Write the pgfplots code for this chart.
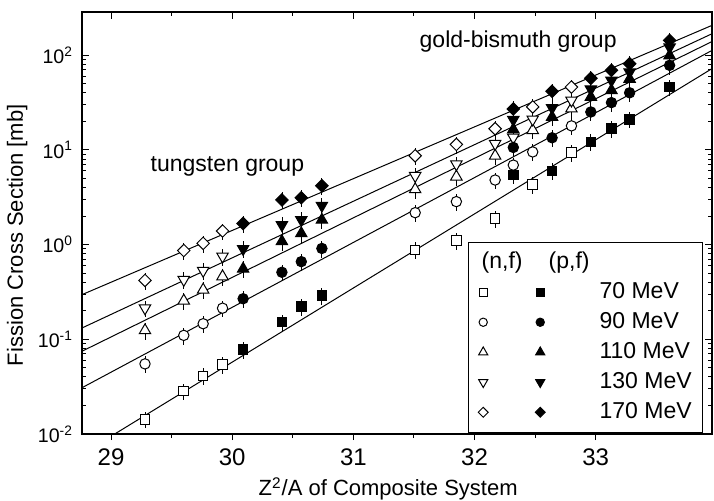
\documentclass[border=0pt]{standalone}
\usepackage{fontspec}
\setmainfont{Liberation Sans}
\usepackage{pgfplots}
\usepackage{pgfplotstable}
\pgfplotsset{compat=1.18}

% (n,f) data, open symbols
\pgfplotstableread{
x y e
29.28 0.0143 0.2
29.60 0.0284 0.2
29.76 0.041 0.2
29.92 0.054 0.2
31.51 0.88 0.2
31.85 1.10 0.2
32.17 1.89 0.2
32.48 4.3 0.2
32.80 9.4 0.2
}\nSeventy
\pgfplotstableread{
x y e
29.28 0.055 0.2
29.60 0.110 0.2
29.76 0.146 0.2
29.92 0.213 0.2
31.51 2.17 0.2
31.85 2.84 0.2
32.17 4.8 0.2
32.32 6.9 0.2
32.48 9.5 0.2
32.80 17.9 0.2
}\nNinety
\pgfplotstableread{
x y e
29.28 0.124 0.2
29.60 0.255 0.2
29.76 0.333 0.2
29.92 0.46 0.2
31.51 3.82 0.2
31.85 5.2 0.2
32.17 8.64 0.2
32.48 16.1 0.2
32.80 27.2 0.2
}\nHundredTen
\pgfplotstableread{
x y e
29.28 0.213 0.2
29.60 0.425 0.2
29.76 0.53 0.2
29.92 0.75 0.2
31.51 5.32 0.2
31.85 7.06 0.2
32.17 11.6 0.2
32.32 13.5 0.2
32.48 21 0.2
32.80 33.3 0.2
}\nHundredThirty
\pgfplotstableread{
x y e
29.28 0.418 0.2
29.60 0.865 0.2
29.76 1.03 0.2
29.92 1.39 0.2
31.51 8.65 0.2
31.85 11.4 0.2
32.17 16.7 0.2
32.48 28.4 0.2
32.80 46 0.2
}\nHundredSeventy

% (p,f) data, filled symbols
\pgfplotstableread{
x y e
30.09 0.078 0.2
30.41 0.152 0.2
30.57 0.222 0.2
30.74 0.288 0.2
32.32 5.4 0.2
32.64 6.0 0.2
32.96 12.1 0.2
33.13 16.7 0.2
33.28 21 0.2
33.61 46 0.2
}\pSeventy
\pgfplotstableread{
x y e
30.09 0.268 0.2
30.41 0.51 0.2
30.57 0.66 0.2
30.74 0.91 0.2
32.32 10.6 0.2
32.64 13.4 0.2
32.96 25.1 0.2
33.13 31.5 0.2
33.28 40 0.2
33.61 78 0.2
}\pNinety
\pgfplotstableread{
x y e
30.09 0.554 0.2
30.41 1.08 0.2
30.57 1.31 0.2
30.74 1.82 0.2
32.32 16.4 0.2
32.64 22.2 0.2
32.96 36.1 0.2
33.13 42.5 0.2
33.28 56 0.2
33.61 99 0.2
}\pHundredTen
\pgfplotstableread{
x y e
30.09 0.90 0.2
30.41 1.61 0.2
30.57 1.82 0.2
30.74 2.58 0.2
32.32 20.8 0.2
32.64 27.7 0.2
32.96 43.6 0.2
33.13 54 0.2
33.28 66 0.2
33.61 121 0.2
}\pHundredThirty
\pgfplotstableread{
x y e
30.09 1.67 0.2
30.41 2.96 0.2
30.57 3.12 0.2
30.74 4.18 0.2
32.32 27 0.2
32.64 41.5 0.2
32.96 57 0.2
33.13 69 0.2
33.28 81 0.2
33.61 143 0.2
}\pHundredSeventy

\pgfplotsset{
  pts/.style={only marks, black, line width=0.5pt,
    /pgfplots/error bars/y dir=both,
    /pgfplots/error bars/y explicit relative,
    /pgfplots/error bars/error mark=none,
    /pgfplots/error bars/error bar style={line width=0.4pt, black}},
  openpt/.style={forget plot, every mark/.append style={fill=white}},
  fullpt/.style={every mark/.append style={fill=black},
    legend image code/.code={
      \draw[##1, every mark/.append style={fill=white, scale=0.8}] plot coordinates {(0pt,0pt)};
      \draw[##1, every mark/.append style={scale=0.8}] plot coordinates {(28.5pt,0pt)};}},
  mA/.style={mark=square*, mark size=2.4pt},
  mB/.style={mark=*, mark size=2.6pt},
  mC/.style={mark=triangle*, mark size=3.3pt},
  mD/.style={mark=triangle*, mark size=3.3pt, every mark/.append style={rotate=180}},
  mE/.style={mark=square*, mark size=2.2pt, every mark/.append style={rotate=45}},
  fitline/.style={black, line width=0.5pt, no marks, forget plot},
}

\begin{document}
\begin{tikzpicture}[font=\fontsize{11}{13}\selectfont]
\begin{axis}[name=main,
  width=315pt, height=211pt, scale only axis,
  xmin=28.76, xmax=33.96, ymode=log, ymin=0.01, ymax=285,
  major tick length=3.5pt, minor tick length=2pt,
  every tick/.style={black, line width=0.5pt},
  axis line style={line width=0.7pt},
  tick align=inside,
  xtick={29,30,31,32,33}, minor x tick num=1,
  xtick pos=right, xticklabel pos=left,
  xticklabels={29,30,31,32,33},
  xticklabel style={yshift=-4pt, font=\fontsize{12}{14}\selectfont},
  ytick={0.01,0.1,1,10,100},
  yticklabels={10\textsuperscript{-2},10\textsuperscript{-1},10\textsuperscript{0},10\textsuperscript{1},10\textsuperscript{2}},
  yticklabel style={xshift=-1pt, font=\fontsize{9.8}{12}\selectfont},
  xlabel={Z\textsuperscript{2}/A of Composite System},
  ylabel={Fission Cross Section [mb]},
  every axis x label/.style={at={(axis description cs:0.486,-0.13)}, anchor=center},
  every axis y label/.style={at={(axis description cs:-0.103,0.471)}, anchor=center, rotate=90},
  legend cell align=left,
  legend style={at={(axis description cs:0.986,0.003)}, anchor=south east,
    draw=black, line width=0.5pt, fill=white,
    font=\fontsize{11.5}{13}\selectfont,
    inner xsep=5pt, inner ysep=4pt, row sep=3pt,
    nodes={inner sep=0.5pt, text height=8.5pt, text depth=2.5pt},
    /tikz/column 1/.style={column sep=4pt}},
]
\addlegendimage{legend image code/.code={
  \node at (-1.5pt,0pt) {(n,f)};
  \node at (32pt,0pt) {(p,f)};}}
\addlegendentry{}

% fit lines
\addplot[fitline] coordinates {(28.76,0.296) (33.96,206)};
\addplot[fitline] coordinates {(28.76,0.1316) (33.96,168)};
\addplot[fitline] coordinates {(28.76,0.0748) (33.96,139)};
\addplot[fitline] coordinates {(28.76,0.0308) (33.96,112)};
\addplot[fitline] coordinates {(28.76,0.00615) (33.96,72)};

% (n,f)
\addplot[pts, openpt, mA] table[x=x, y=y, y error=e] {\nSeventy};
\addplot[pts, openpt, mB] table[x=x, y=y, y error=e] {\nNinety};
\addplot[pts, openpt, mC] table[x=x, y=y, y error=e] {\nHundredTen};
\addplot[pts, openpt, mD] table[x=x, y=y, y error=e] {\nHundredThirty};
\addplot[pts, openpt, mE] table[x=x, y=y, y error=e] {\nHundredSeventy};

% (p,f)
\addplot[pts, fullpt, mA] table[x=x, y=y, y error=e] {\pSeventy};
\addlegendentry{70 MeV}
\addplot[pts, fullpt, mB] table[x=x, y=y, y error=e] {\pNinety};
\addlegendentry{90 MeV}
\addplot[pts, fullpt, mC] table[x=x, y=y, y error=e] {\pHundredTen};
\addlegendentry{110 MeV}
\addplot[pts, fullpt, mD] table[x=x, y=y, y error=e] {\pHundredThirty};
\addlegendentry{130 MeV}
\addplot[pts, fullpt, mE] table[x=x, y=y, y error=e] {\pHundredSeventy};
\addlegendentry{170 MeV}

\node[font=\fontsize{11.5}{13}\selectfont] at (axis cs:29.96,6.6) {tungsten group};
\node[font=\fontsize{11.5}{13}\selectfont] at (axis cs:32.36,140) {gold-bismuth group};
\end{axis}

% bottom ticks point outward
\begin{axis}[at={(main.south west)}, anchor=south west,
  width=315pt, height=211pt, scale only axis,
  xmin=28.76, xmax=33.96, ymin=0, ymax=1,
  major tick length=3pt, minor tick length=2pt,
  every tick/.style={black, line width=0.5pt},
  axis x line*=bottom, axis y line=none,
  axis line style={draw=none},
  tick align=outside,
  xtick={29,30,31,32,33}, minor x tick num=1,
  xticklabels={},
]
\end{axis}

\pgfresetboundingbox
\path ([shift={(-41pt,-33pt)}]main.south west) rectangle ([shift={(1pt,6pt)}]main.north east);
\end{tikzpicture}
\end{document}
